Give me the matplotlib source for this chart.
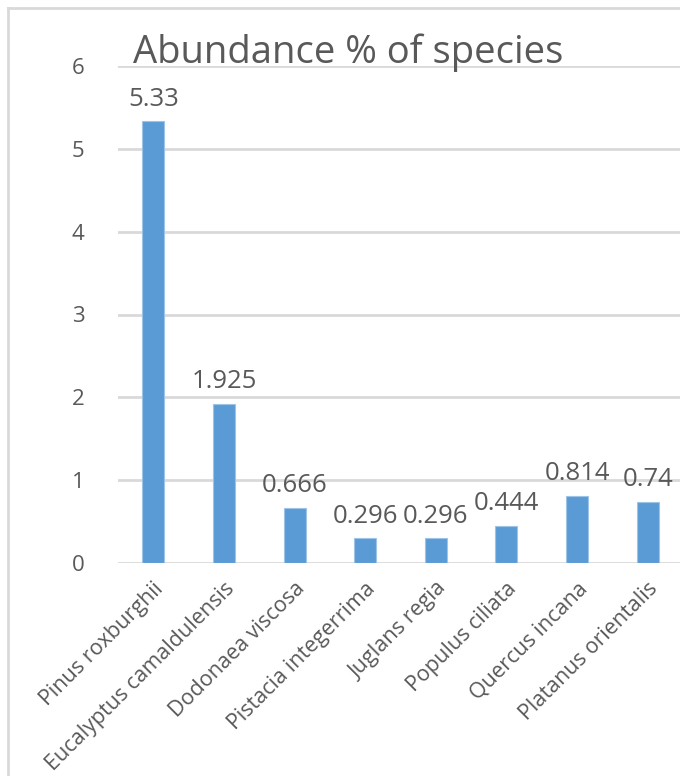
import matplotlib.pyplot as plt
from matplotlib.lines import Line2D

species = ["Pinus roxburghii", "Eucalyptus camaldulensis", "Dodonaea viscosa",
           "Pistacia integerrima", "Juglans regia", "Populus ciliata",
           "Quercus incana", "Platanus orientalis"]
abundance = [5.33, 1.925, 0.666, 0.296, 0.296, 0.444, 0.814, 0.74]
labels = ["5.33", "1.925", "0.666", "0.296", "0.296", "0.444", "0.814", "0.74"]
yticks = [0, 1, 2, 3, 4, 5, 6]

plt.rcParams['font.family'] = ['Open Sans', 'DejaVu Sans']
txt = '#595959'
grid = '#d9d9d9'

W, H = 680, 776
fig = plt.figure(figsize=(W/100, H/100), dpi=100)
ax = fig.add_axes([118/W, 1-563/H, 565/W, 497/H])

x = range(len(species))
ax.bar(x, abundance, width=0.31, color='#5b9bd5', edgecolor='#9dc3e6', linewidth=0.8, zorder=3)
for i, (v, s) in enumerate(zip(abundance, labels)):
    ax.annotate(s, (i, v), xytext=(0, 7), textcoords='offset points',
                ha='center', va='bottom', fontsize=18.5, color=txt)

ax.set_xlim(-0.5, len(species)-0.5)
ax.set_ylim(0, 6)
ax.set_yticks(yticks)
ax.set_yticklabels([str(t) for t in yticks], fontsize=16, color=txt)
ax.yaxis.grid(True, color=grid, linewidth=2)
ax.set_axisbelow(True)
ax.tick_params(axis='y', length=0, pad=24)
ax.set_xticks(list(x))
ax.set_xticklabels(species, rotation=45, ha='right', va='top',
                   rotation_mode='anchor', fontsize=15.5, color=txt)
ax.tick_params(axis='x', length=0, pad=11)
for sp in ax.spines.values():
    sp.set_visible(False)

fig.text(133/W, 1-63/H, "Abundance % of species", fontsize=27.5, color=txt,
         ha='left', va='baseline')

# chart frame (left and top edges)
fig.add_artist(Line2D([8/W, 8/W], [0, 1-8/H], color=grid, linewidth=2))
fig.add_artist(Line2D([8/W, 1], [1-8/H, 1-8/H], color=grid, linewidth=2))

fig.savefig('out.png', dpi=100)
